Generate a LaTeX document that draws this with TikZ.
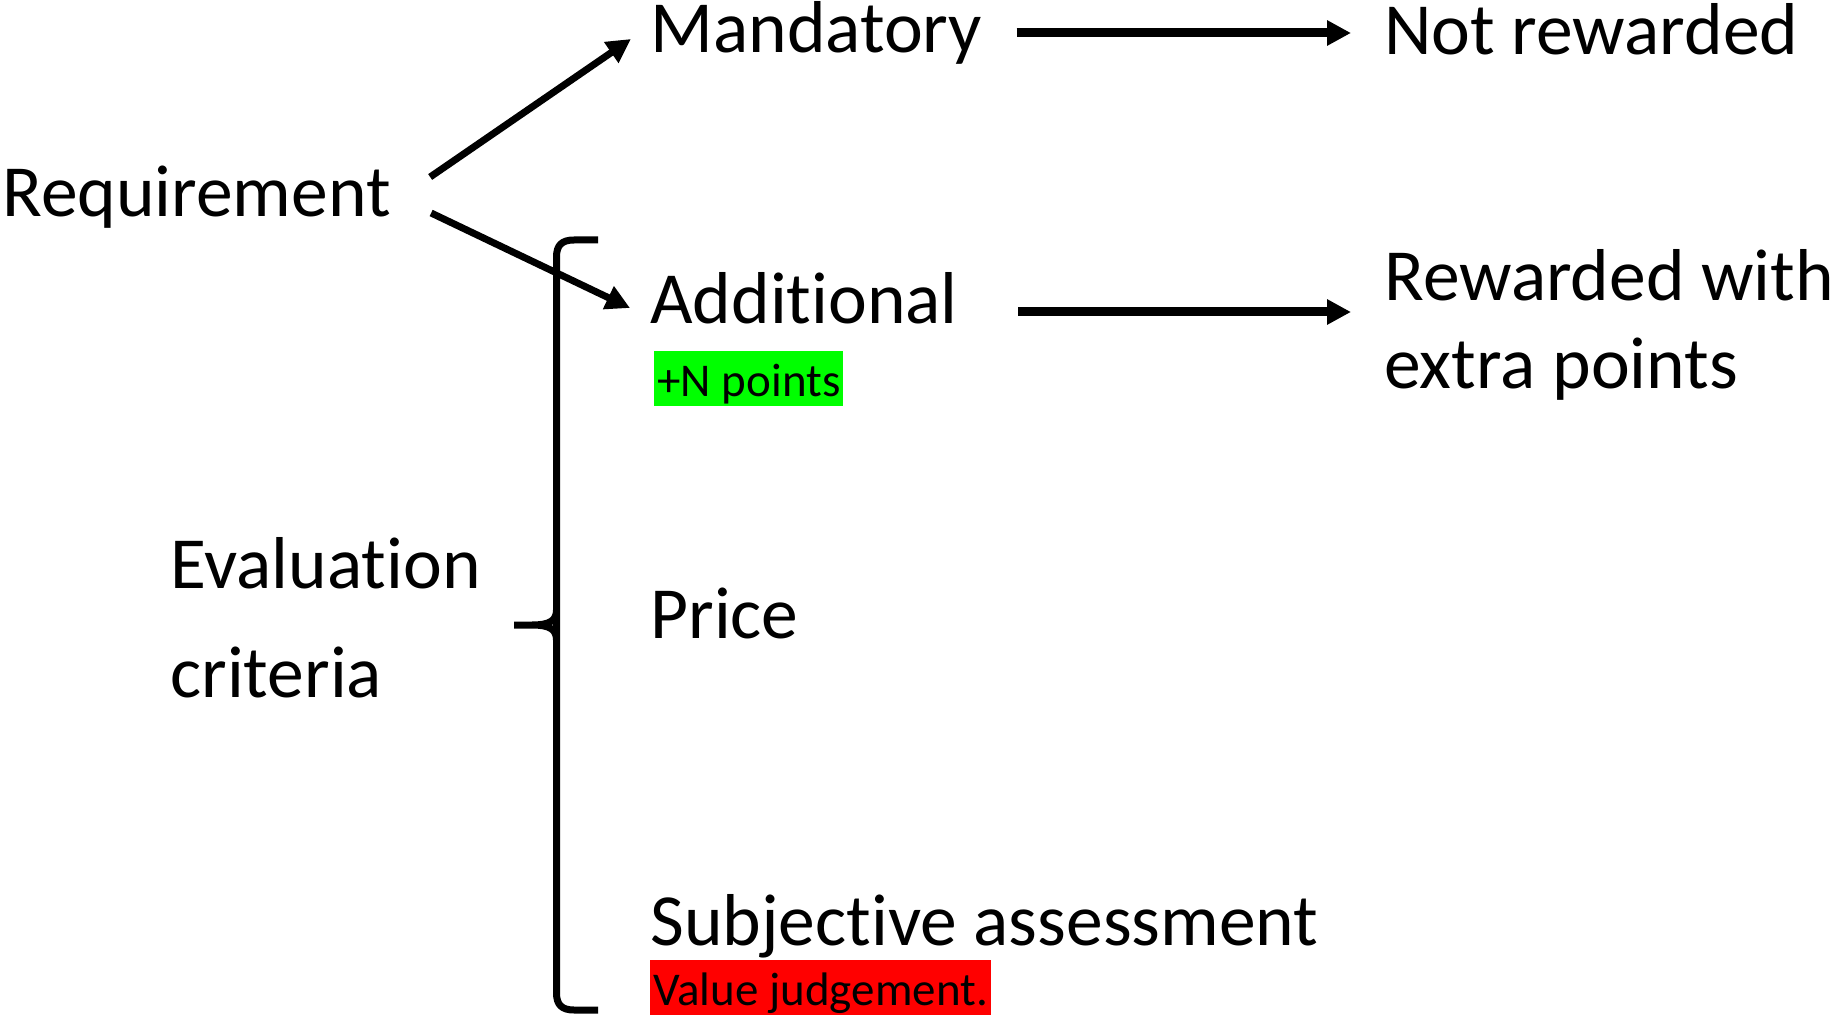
\documentclass[tikz,border=0pt]{standalone}
\usepackage{fontspec}
\setmainfont{Carlito}[Ligatures=NoCommon]
\usetikzlibrary{arrows.meta}

\begin{document}
\begin{tikzpicture}[x=0.5pt, y=-0.5pt,
  bigtext/.style={inner sep=0pt, anchor=base west, align=left,
    font=\fontsize{36.75pt}{44pt}\selectfont},
  tagbox/.style={inner xsep=1.5pt, inner ysep=0pt, anchor=base west,
    text height=22.5pt, text depth=5pt, font=\fontsize{23.5pt}{28pt}\selectfont},
  arr/.style={line width=3.5pt, -{Triangle[length=12pt,width=12pt]}},
  brace/.style={line width=3.5pt}]
  \useasboundingbox (0,0) rectangle (1837,1016);

  % left column
  \node[bigtext] (req) at (2,217) {Requirement};
  \node[bigtext] (evalcrit) at (170,697) {Evaluation\\[10.5pt]criteria};

  % middle column
  \node[bigtext] (mand) at (650,53) {Mandatory};
  \node[bigtext] (addl) at (650,323) {Additional};
  \node[tagbox, fill=green] (npts) at (654,396) {+N points};
  \node[bigtext] (price) at (650,638) {Price};
  \node[bigtext] (subj) at (650,945) {Subjective assessment};
  \node[tagbox, fill=red] (valjudge) at (650,1005) {Value judgement.};

  % right column
  \node[bigtext] (notrew) at (1384,55) {Not rewarded};
  \node[bigtext] (rewx) at (1384,388) {Rewarded with\\extra points};

  % arrows
  \draw[arr] ([shift={(39,-40)}]req.base east) -- ([shift={(-19,-14)}]mand.base west);
  \draw[arr] ([shift={(40,-4)}]req.base east) -- ([shift={(-20,-15)}]addl.base west);
  \draw[arr, line width=4.5pt] ([shift={(34,-20)}]mand.base east) -- ([shift={(-33,-22)}]notrew.base west);
  \draw[arr, line width=4.5pt] ([shift={(60,-11)}]addl.base east) -- ([shift={(-33,-76)}]rewx.base west);

  % brace
  \draw[brace] (598,240) -- (574,240) .. controls (562,240) and (556.5,245) .. (556.5,257)
    -- (556.5,993) .. controls (556.5,1005) and (562,1010) .. (574,1010) -- (598,1010);
  \draw[brace] (556.5,610) .. controls (556.5,621) and (549,625) .. (532,625) -- (514,625)
    (556.5,640) .. controls (556.5,629) and (549,625) .. (532,625);
\end{tikzpicture}
\end{document}
